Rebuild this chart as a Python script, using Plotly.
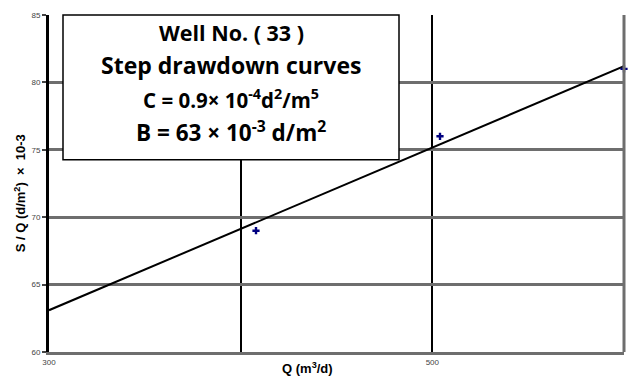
import plotly.graph_objects as go

# Data
q_points = [408, 504, 600]
sq_points = [69, 76, 81]
line_q = [300, 600]
line_sq = [63.1, 81.2]

x_tickvals = [300, 500]
x_ticktext = ["300", "500"]
y_tickvals = [60, 65, 70, 75, 80, 85]

box_lines = [
    "Well No. ( 33 )",
    "Step drawdown curves",
    "C = 0.9× 10<sup>-4</sup>d<sup>2</sup>/m<sup>5</sup>",
    "B = 63 × 10<sup>-3</sup> d/m<sup>2</sup>",
]
box_sizes = [21.5, 23, 20.5, 22.5]

fig = go.Figure()
fig.add_trace(go.Scatter(x=line_q, y=line_sq, mode="lines",
                         line=dict(color="black", width=2), showlegend=False,
                         hoverinfo="skip"))
fig.add_trace(go.Scatter(x=q_points, y=sq_points, mode="markers",
                         marker=dict(symbol="cross", size=6, color="#000080"),
                         showlegend=False, cliponaxis=False))

W, H = 637, 378
ml, mr, mt, mb = 49, 13, 11, 25
pw, ph = W - ml - mr, H - mt - mb

def px(x):
    return (x - ml) / pw

def py(y):
    return (H - mb - y) / ph

fig.update_layout(
    width=W, height=H,
    margin=dict(l=ml, r=mr, t=mt, b=mb),
    paper_bgcolor="white", plot_bgcolor="white",
    xaxis=dict(range=[300, 600], tickvals=x_tickvals, ticktext=x_ticktext,
               showgrid=False,
               minor=dict(dtick=100, tick0=300, showgrid=True,
                          gridcolor="black", gridwidth=2, ticks=""),
               showline=True, linecolor="#6e6e6e", linewidth=3,
               ticks="", tickfont=dict(family="Liberation Sans", size=8, color="#444"),
               zeroline=False, fixedrange=True),
    yaxis=dict(range=[60, 85], tickvals=y_tickvals,
               showgrid=True, gridcolor="#6e6e6e", gridwidth=2.5,
               showline=True, linecolor="black", linewidth=3,
               ticks="outside", ticklen=4, tickcolor="#444", tickwidth=1.5,
               tickfont=dict(family="Liberation Sans", size=8, color="#444"),
               zeroline=False, fixedrange=True),
    font=dict(family="Liberation Sans"),
)

# right border
fig.add_shape(type="line", xref="paper", yref="paper", x0=1, x1=1, y0=0, y1=1,
              line=dict(color="#6e6e6e", width=3))

# text box
fig.add_shape(type="rect", xref="paper", yref="paper",
              x0=px(63), x1=px(399), y0=py(158), y1=py(11),
              line=dict(color="black", width=1.5), fillcolor="white", layer="above")

line_y = [29, 62, 96, 129]
for txt, yy, sz in zip(box_lines, line_y, box_sizes):
    fig.add_annotation(text="<b>" + txt + "</b>", xref="paper", yref="paper",
                       x=px(231), y=py(yy), showarrow=False,
                       xanchor="center", yanchor="middle",
                       font=dict(family="Open Sans", size=sz, color="black"))

# axis titles
fig.add_annotation(text="<b>S / Q (d/m<sup>2</sup>)  ×  10-3</b>", xref="paper", yref="paper",
                   x=px(20), y=py(192), textangle=-90, showarrow=False,
                   xanchor="center", yanchor="middle",
                   font=dict(family="Liberation Sans", size=13, color="black"))
fig.add_annotation(text="<b>Q (m<sup>3</sup>/d)</b>", xref="paper", yref="paper",
                   x=px(307), y=py(369), showarrow=False,
                   xanchor="center", yanchor="middle",
                   font=dict(family="Liberation Sans", size=13, color="black"))

fig.write_html("out.html")
